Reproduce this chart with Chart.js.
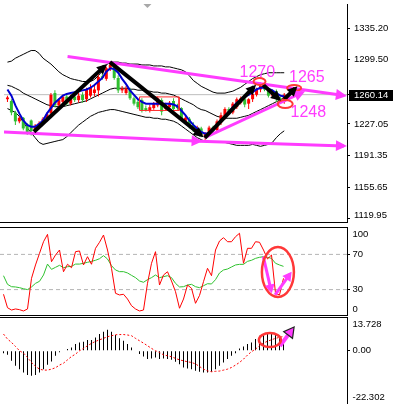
<!DOCTYPE html>
<html>
<head>
<meta charset="utf-8">
<script src="https://cdn.jsdelivr.net/npm/chart.js@4.4.1/dist/chart.umd.min.js"></script>
<style>
  html, body { margin: 0; padding: 0; background: #fff; }
  #wrap { position: relative; width: 393px; height: 404px; overflow: hidden; }
  #wrap canvas { position: absolute; left: 0; }
</style>
</head>
<body>
<div id="wrap">
  <canvas id="priceChart" width="393" height="226" style="top:0"></canvas>
  <canvas id="oscChart" width="393" height="90" style="top:226px"></canvas>
  <canvas id="macdChart" width="393" height="88" style="top:316px"></canvas>
</div>
<script>
// candles, one per bar index
const openP = [1255,1253,1240,1230,1234,1226,1231,1219,1224,1228, 1233,1239,1262,1248,1252,1258,1250,1258,1254,1260,
  1255,1259,1262,1265,1281,1278,1290,1293,1279,1265, 1262,1266,1256,1252,1254,1245,1242,1245,1248,1254,
  1244,1246,1253,1247,1245,1230,1233,1226,1218,1222, 1213,1216,1223,1220,1229,1234,1244,1240,1246,1251,
  1255,1250,1255,1260,1266,1270,1265,1259,1264,1256, 1252];
const highP = [1259,1255,1242,1236,1235,1228,1232,1227,1230,1235, 1240,1262,1265,1256,1260,1262,1260,1260,1262,1263,
  1268,1272,1270,1283,1284,1292,1297,1295,1282,1270, 1270,1268,1258,1255,1256,1248,1249,1252,1258,1256,
  1251,1253,1256,1250,1246,1236,1235,1229,1225,1224, 1218,1225,1225,1232,1240,1246,1246,1252,1257,1258,
  1257,1256,1263,1268,1274,1272,1268,1266,1266,1258, 1262];
const lowP = [1252,1237,1226,1228,1220,1215,1214,1216,1221,1226, 1230,1237,1246,1245,1250,1248,1248,1252,1251,1251,
  1252,1257,1258,1258,1277,1276,1287,1277,1262,1262, 1260,1254,1248,1244,1240,1241,1240,1243,1246,1237,
  1242,1244,1240,1243,1230,1227,1222,1218,1216,1212, 1209,1214,1217,1218,1226,1232,1238,1238,1244,1249,
  1246,1244,1252,1258,1263,1264,1257,1256,1252,1250, 1250];
const closeP = [1257,1240,1230,1234,1222,1218,1219,1225,1228,1233, 1238,1260,1248,1254,1258,1250,1257,1254,1259,1254,
  1266,1268,1266,1280,1279,1290,1294,1279,1265,1267, 1267,1256,1250,1246,1242,1242,1246,1250,1256,1241,
  1249,1251,1244,1245,1232,1234,1225,1221,1222,1214, 1216,1223,1219,1230,1237,1244,1240,1250,1255,1256,
  1249,1255,1261,1266,1270,1266,1259,1264,1255,1252, 1260.14];

const maFast = [1266,1259,1248,1239,1231,1226,1224,1224,1227,1231, 1239,1245,1251,1255,1259,1261,1262,1263,1264,1265,
  1266,1268,1271,1275,1279,1286,1290,1289,1285,1278, 1272,1265,1260,1255,1252,1250,1250,1250,1250,1250,
  1250,1250,1249,1247,1242,1237,1231,1226,1222,1218, 1216,1217,1220,1225,1230,1236,1241,1246,1251,1254,
  1258,1260,1263,1266,1268,1268,1267,1265,1262,1259, 1258];

const bbUpper = [1296.9,1298.0,1301.3,1303.5,1305.7,1307.9,1310.0,1310.0,1306.8,1301.3,
  1298.0,1294.7,1290.4,1286.0,1282.7,1280.5,1278.3,1277.2,1276.2,1275.0,
  1275.0,1275.0,1277.2,1281.6,1287.1,1293.7,1296.9,1296.9,1296.9,1295.8,
  1295.8,1294.7,1294.7,1294.7,1293.7,1293.7,1293.7,1292.6,1292.6,1292.6,
  1291.5,1291.5,1290.4,1289.3,1288.2,1286.0,1281.6,1276.2,1272.9,1269.6,
  1267.4,1265.2,1263.0,1261.9,1261.9,1261.9,1263.0,1264.1,1266.3,1268.5,
  1271.8,1275.0,1278.3,1280.5,1282.7,1283.8,1284.9,1284.9,1284.9,1284.9, 1284.9];
const bbMid = [1270.7,1269.6,1267.4,1265.2,1261.9,1259.7,1257.6,1255.4,1253.2,1251.0,
  1248.8,1247.7,1246.6,1246.6,1246.6,1247.7,1248.8,1249.9,1251.0,1252.1,
  1253.2,1255.4,1257.6,1259.7,1261.9,1264.1,1266.3,1267.4,1267.4,1267.4,
  1267.4,1266.3,1266.3,1265.2,1265.2,1264.1,1264.1,1263.0,1263.0,1261.9,
  1261.9,1260.8,1259.7,1257.6,1255.4,1253.2,1251.0,1248.8,1245.5,1243.3,
  1242.3,1240.1,1237.9,1235.7,1234.6,1233.5,1233.5,1233.5,1233.5,1234.6,
  1235.7,1236.8,1239.0,1241.2,1243.3,1245.5,1247.7,1249.9,1252.1,1254.3, 1256.5];
const bbLower = [1244.4,1242.3,1240.1,1235.7,1229.1,1222.6,1217.1,1211.6,1206.2,1204.0,
  1205.1,1206.2,1207.3,1208.4,1209.4,1212.7,1217.1,1221.5,1225.8,1229.1,
  1232.4,1235.7,1237.9,1240.1,1241.2,1242.3,1243.3,1243.3,1242.3,1241.2,
  1240.1,1239.0,1237.9,1236.8,1235.7,1234.6,1234.6,1233.5,1233.5,1232.4,
  1232.4,1231.3,1230.2,1228.0,1224.8,1221.5,1218.2,1214.9,1211.6,1209.4,
  1207.3,1206.2,1206.2,1206.2,1206.2,1206.2,1205.1,1204.0,1202.9,1202.9,
  1202.9,1202.9,1204.0,1202.9,1201.8,1202.9,1204.0,1206.2,1211.6,1216.0, 1219.3];

const lastPrice = 1260.14;
const priceTicks = [1335.20, 1299.50, 1227.05, 1191.35, 1155.65, 1119.95];

// oscillator pane
const oscRed = [24.7,9.4,6.8,8,7.2,5.7,8,42.8,58,71.2, 84.4,92.8,61.7,69.3,75,50.3,58.8,54.9,73.1,73.9,
  58,67.4,58.8,76.9,83.8,92,75,54.2,25.8,23.9, 24.7,19.3,11.7,8,5.7,6.8,37.2,59.9,73.1,35.2,
  46.6,50.3,39.8,27.6,8.8,19.3,35.2,31.5,14.4,23.3, 39,54.2,45.8,75,85.2,89,84.4,84.4,90.1,94,
  59.9,76.9,76.9,84.4,83.8,75,64.8,69.3,25.8,23.9, 42.8];
const oscGreen = [45.8,36,33.3,33,32.2,31,30,33,37.1,39.4, 46.6,59,53,55.3,57.6,54.9,56,56.4,59,59,
  59.9,61,62.1,63.3,65.1,68.6,64.8,57.2,52.3,50.4, 50.4,48.9,46.2,43.6,39.8,38.3,41.3,43.6,46.6,43.6,
  44.7,45.8,43.6,37.1,33,33.3,35.2,36,33.3,32.2, 34.4,36.7,36.4,41.3,48.9,52.3,53.4,55.7,58,58.7,
  58.7,62.1,63.3,65.5,66.7,67.4,66.7,65.5,59.9,58, 56.4];
const oscLevels = [70, 30];
const oscTicks = [100, 70, 30, 0];

// macd pane
const macdHist = [-1.0,-1.7,-4.2,-6.3,-7.7,-9.1,-10.1,-10.5,-10.1,-9.1, -7.7,-5.9,-4.5,-2.1,-0.6,0,0.7,1.4,2.8,3.5,
  3.8,4.5,4.5,5.6,7.0,8.0,8.8,8.0,6.6,5.2, 4.2,2.8,1.4,0,-1.4,-2.4,-3.5,-3.2,-2.8,-3.5,
  -3.2,-3.5,-3.8,-4.6,-5.6,-7.0,-7.4,-7.7,-8.4,-8.8, -9.1,-9.1,-8.8,-7.7,-6.3,-4.9,-3.5,-2.1,-1.0,1.0,
  1.8,2.8,3.5,4.9,6.3,7.0,7.4,7.4,7.0,6.3, 4.9];
const macdSignal = [7.0,4.9,3.5,1.8,0,-1.0,-2.8,-4.9,-6.5,-7.7, -8.1,-8.1,-7.7,-7.1,-6.0,-5.2,-3.8,-2.4,-1.4,0,
  1.0,2.1,3.1,3.9,4.6,5.2,5.9,6.3,6.7,6.8, 6.8,6.6,6.3,5.2,4.2,3.2,2.1,1.0,0,-0.7,
  -1.7,-2.1,-2.5,-3.2,-3.8,-4.2,-4.6,-4.9,-5.5,-6.6, -7.7,-8.4,-8.8,-8.6,-8.5,-8.1,-7.7,-7.0,-6.0,-4.9,
  -3.5,-1.8,-0.4,0.7,2.1,3.2,4.0,4.6,5.2,5.6, 6.0];
const macdTicks = [13.728, 0, -22.302];
const macdTickLabels = ['13.728', '0.00', '-22.302'];

// hand drawn marks: [x0, y0, x1, y1] in bar index / value
const blackArrows = [[6.7, 1218.2, 24.6, 1292.4], [25.9, 1296.9, 49.0, 1214.3], [49.9, 1211.3, 62.35, 1269.0],
  [64.6, 1271.4, 68.6, 1255.4], [70.0, 1255.0, 72.8, 1267.3]];
const pinkArrows = [[15.2, 1303.2, 85.1, 1259.1], [-0.875, 1217.9, 48.6, 1207.6], [48.6, 1207.6, 85.1, 1202.3],
  [49.9, 1211.6, 74.6, 1262.6]];
const noteText = ['1270', '1265', '1248'];
const noteX = [58.7, 71.2, 71.6];
const noteY = [1280.5, 1274.0, 1234.9];
const ringX = [63.75, 70.25, 72.5];
const ringY = [1275.0, 1249.6, 1267.7];
const boxX = [33.4, 43.4];
const boxY = [1257.6, 1242.3];
const oscArrows = [[64.95, 67.4, 66.9, 29.1], [67.9, 23.9, 71.6, 47.6]];
const oscRingX = [68.6], oscRingY = [50];
const macdArrows = [[69.1, 2.0, 72.2, 8.95]];
const macdRingX = [66.6], macdRingY = [4.5];

const X_MIN = -0.875, X_MAX = 85.875;
const UP = '#ff0000', DOWN = '#2fbf2f', PINK = '#ff3cff', RING = '#ff3838';
const LABEL_FONT = '9.5px "Liberation Sans", Arial, sans-serif';

const idx = openP.map((_, i) => i);
const candleColors = idx.map(i => closeP[i] >= openP[i] ? UP : DOWN);
const pts = arr => arr.map((v, i) => ({ x: i, y: v }));
const seg = s => [{ x: s[0], y: s[1] }, { x: s[2], y: s[3] }];
const flat = v => [{ x: X_MIN, y: v }, { x: X_MAX, y: v }];

function lineSet(data, color, width, order, extra) {
  return Object.assign({ type: 'line', data, borderColor: color, borderWidth: width, pointRadius: 0, tension: 0, order }, extra || {});
}

// arrow heads at the last point of datasets that ask for one
const arrowHeads = {
  id: 'arrowHeads',
  afterDatasetsDraw(chart) {
    const ctx = chart.ctx;
    chart.data.datasets.forEach((ds, i) => {
      if (!ds.head) return;
      const el = chart.getDatasetMeta(i).data;
      const a = el[el.length - 2], b = el[el.length - 1];
      const ang = Math.atan2(b.y - a.y, b.x - a.x);
      const [len, half, ext] = ds.head;
      ctx.save();
      ctx.translate(b.x, b.y);
      ctx.rotate(ang);
      ctx.beginPath();
      ctx.moveTo(ext, 0);
      ctx.lineTo(ext - len, -half);
      ctx.lineTo(ext - len, half);
      ctx.closePath();
      ctx.fillStyle = ds.borderColor;
      ctx.fill();
      if (ds.headEdge) { ctx.strokeStyle = ds.headEdge; ctx.lineWidth = 1.2; ctx.stroke(); }
      ctx.restore();
    });
  }
};

function rings(xs, ys, radii, width) {
  return {
    id: 'rings',
    afterDatasetsDraw(chart) {
      const ctx = chart.ctx, sx = chart.scales.x, sy = chart.scales.y;
      ctx.save();
      ctx.strokeStyle = RING;
      ctx.lineWidth = width;
      xs.forEach((x, i) => {
        ctx.beginPath();
        ctx.ellipse(sx.getPixelForValue(x), sy.getPixelForValue(ys[i]), radii[i][0], radii[i][1], 0, 0, Math.PI * 2);
        ctx.stroke();
      });
      ctx.restore();
    }
  };
}

// labels right of the axis, kept inside the pane like the terminal does
function sideLabels(values, labels, dx, marker) {
  return {
    id: 'sideLabels',
    afterDraw(chart) {
      const ctx = chart.ctx, sc = chart.scales.y, a = chart.chartArea;
      ctx.save();
      ctx.font = LABEL_FONT;
      ctx.textBaseline = 'middle';
      ctx.fillStyle = '#000';
      values.forEach((v, i) => {
        let y = sc.getPixelForValue(v);
        y = Math.min(Math.max(y, a.top + 6.3), a.bottom - 7);
        ctx.fillText(labels[i], a.right + dx, y);
      });
      if (marker != null) {
        const y = Math.round(sc.getPixelForValue(marker));
        ctx.fillRect(a.right + 2, y - 5, chart.width - a.right - 2, 11);
        ctx.fillStyle = '#fff';
        ctx.fillText(marker.toFixed(2), a.right + dx, y + 0.5);
      }
      ctx.restore();
    }
  };
}

function frame(edges) {
  return {
    id: 'frame',
    afterDraw(chart) {
      const ctx = chart.ctx, a = chart.chartArea;
      ctx.save();
      ctx.strokeStyle = '#000';
      ctx.lineWidth = 1;
      ctx.beginPath();
      edges(a).forEach(y => { ctx.moveTo(0, y); ctx.lineTo(a.right + 1, y); });
      ctx.stroke();
      ctx.restore();
    }
  };
}

const notes = {
  id: 'notes',
  afterDatasetsDraw(chart) {
    const ctx = chart.ctx, sx = chart.scales.x, sy = chart.scales.y;
    ctx.save();
    ctx.font = '16px "Liberation Sans", Arial, sans-serif';
    ctx.fillStyle = PINK;
    noteText.forEach((t, i) => ctx.fillText(t, sx.getPixelForValue(noteX[i]), sy.getPixelForValue(noteY[i])));
    ctx.restore();
  }
};

function yAxis(min, max, ticks) {
  return {
    position: 'right', min, max, beginAtZero: false,
    afterBuildTicks: s => { s.ticks = ticks.map(v => ({ value: v })); },
    afterFit: s => { s.width = 46; },
    ticks: { display: false },
    grid: { drawOnChartArea: false, drawTicks: true, tickLength: 3, color: '#000' },
    border: { display: true, color: '#000' }
  };
}
const xAxis = { type: 'linear', min: X_MIN, max: X_MAX, display: false, offset: false };
const base = { responsive: false, animation: false, events: [], plugins: { legend: { display: false }, tooltip: { enabled: false } } };

// price pane
new Chart(document.getElementById('priceChart'), {
  type: 'bar',
  data: {
    datasets: [
      lineSet(flat(lastPrice), '#bdbdbd', 1, 100),
      lineSet(pts(bbUpper), '#000', 1, 90),
      lineSet(pts(bbMid), '#000', 1, 90),
      lineSet(pts(bbLower), '#000', 1, 90),
      { type: 'bar', data: idx.map(i => ({ x: i, y: [lowP[i], highP[i]] })), backgroundColor: candleColors,
        barThickness: 1, grouped: false, inflateAmount: 0, borderWidth: 0, order: 80 },
      { type: 'bar', data: idx.map(i => ({ x: i, y: [openP[i], closeP[i]] })), backgroundColor: candleColors,
        barThickness: 3, grouped: false, inflateAmount: 0, borderWidth: 0, minBarLength: 1, order: 70 },
      lineSet(pts(maFast), '#0000d0', 2, 60),
      lineSet([{ x: boxX[0], y: boxY[0] }, { x: boxX[1], y: boxY[0] }, { x: boxX[1], y: boxY[1] },
        { x: boxX[0], y: boxY[1] }, { x: boxX[0], y: boxY[0] }], '#ff2a2a', 1, 50),
      lineSet([{ x: 35.4, y: 1362.54 }], '#a8a8a8', 0, 55,
        { showLine: false, pointRadius: 4, pointStyle: 'rectRot', pointBackgroundColor: '#a8a8a8', pointBorderWidth: 0 }),
      ...pinkArrows.map(s => lineSet(seg(s), PINK, 3, 40, { head: [11, 5.5, 3] })),
      ...blackArrows.map(s => lineSet(seg(s), '#000', 4, 30, { head: [10, 5, 3] }))
    ]
  },
  options: Object.assign({}, base, {
    layout: { padding: { top: 0, bottom: 1, left: 0, right: 0 } },
    scales: { x: xAxis, y: yAxis(1116.34, 1362.54, priceTicks.concat([lastPrice])) }
  }),
  plugins: [notes, rings(ringX, ringY, [[6, 3.5], [7.5, 4], [7, 3]], 2), arrowHeads,
    sideLabels(priceTicks, priceTicks.map(v => v.toFixed(2)), 7, lastPrice), frame(a => [a.bottom + 0.5])]
});

// oscillator pane
new Chart(document.getElementById('oscChart'), {
  type: 'line',
  data: {
    datasets: [
      ...oscLevels.map(v => lineSet(flat(v), '#b4b4b4', 1, 50, { borderDash: [4, 3] })),
      lineSet(pts(oscGreen), '#2fc22f', 1, 20),
      lineSet(pts(oscRed), '#ff0000', 1, 10),
      ...oscArrows.map(s => lineSet(seg(s), PINK, 3, 5, { head: [9, 5, 3] }))
    ]
  },
  options: Object.assign({}, base, {
    layout: { padding: { top: 2, bottom: 0, left: 0, right: 0 } },
    scales: { x: xAxis, y: yAxis(0, 100, oscLevels) }
  }),
  plugins: [rings(oscRingX, oscRingY, [[16, 25]], 2.5), arrowHeads,
    sideLabels(oscTicks, oscTicks.map(String), 5.5), frame(a => [a.top - 0.5, a.bottom - 0.5])]
});

// macd pane
new Chart(document.getElementById('macdChart'), {
  type: 'bar',
  data: {
    datasets: [
      { type: 'bar', data: pts(macdHist), backgroundColor: '#000', barThickness: 1, grouped: false,
        inflateAmount: 0, borderWidth: 0, order: 20 },
      lineSet(pts(macdSignal), '#ff0000', 1, 10, { borderDash: [2, 2] }),
      ...macdArrows.map(s => lineSet(seg(s), PINK, 4, 5, { head: [10, 5.5, 3], headEdge: '#222' }))
    ]
  },
  options: Object.assign({}, base, {
    layout: { padding: { top: 2, bottom: 0, left: 0, right: 0 } },
    scales: { x: xAxis, y: yAxis(-22.302, 13.728, [0]) }
  }),
  plugins: [rings(macdRingX, macdRingY, [[11, 7]], 2.5), arrowHeads,
    sideLabels(macdTicks, macdTickLabels, 5.5), frame(a => [a.top - 0.5])]
});
</script>
</body>
</html>
